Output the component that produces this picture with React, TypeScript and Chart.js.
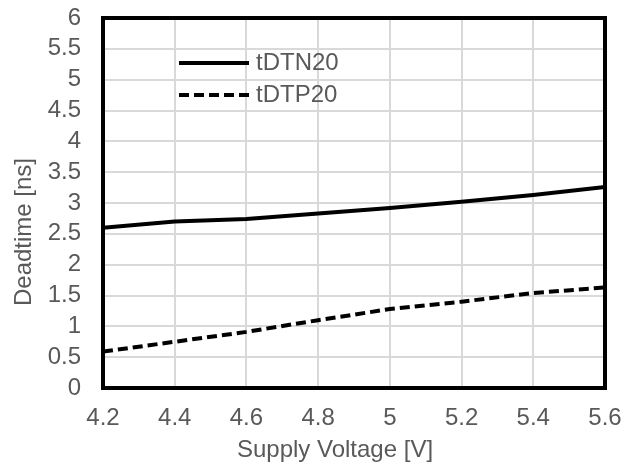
import { useEffect, useRef } from "react";
import { Chart, registerables } from "chart.js";

Chart.register(...registerables);

const voltages = [4.2, 4.4, 4.6, 4.8, 5.0, 5.2, 5.4, 5.6];
const tDTN20 = [2.6, 2.7, 2.74, 2.83, 2.92, 3.02, 3.13, 3.26];
const tDTP20 = [0.59, 0.75, 0.91, 1.1, 1.28, 1.4, 1.54, 1.63];
const seriesNames = ["tDTN20", "tDTP20"];
const xTickValues = [4.2, 4.4, 4.6, 4.8, 5.0, 5.2, 5.4, 5.6];
const yTickValues = [0, 0.5, 1, 1.5, 2, 2.5, 3, 3.5, 4, 4.5, 5, 5.5, 6];
const xTitle = "Supply Voltage [V]";
const yTitle = "Deadtime [ns]";

const FONT = '"Liberation Sans", Arial, Helvetica, sans-serif';
const TEXT = "#595959";
const GRID = "#d9d9d9";

const extrasPlugin = {
  id: "extras",
  afterDatasetsDraw(chart: any) {
    const { ctx, chartArea } = chart;
    const { left, top, right, bottom } = chartArea;
    ctx.save();
    ctx.strokeStyle = "#000";
    ctx.lineWidth = 4;
    ctx.setLineDash([]);
    ctx.strokeRect(left, top, right - left, bottom - top);
    ctx.restore();
  },
  afterDraw(chart: any) {
    const { ctx, chartArea } = chart;
    const { left, top, right, bottom } = chartArea;
    ctx.save();
    // legend inside the plot
    chart.data.datasets.forEach((ds: any, i: number) => {
      const y = top + 45 + i * 32;
      ctx.strokeStyle = ds.borderColor;
      ctx.lineWidth = ds.borderWidth;
      ctx.lineCap = "butt";
      ctx.setLineDash(ds.borderDash || []);
      ctx.beginPath();
      ctx.moveTo(left + 76, y);
      ctx.lineTo(left + 146, y);
      ctx.stroke();
      ctx.setLineDash([]);
      ctx.fillStyle = TEXT;
      ctx.font = `24px ${FONT}`;
      ctx.textAlign = "left";
      ctx.textBaseline = "middle";
      ctx.fillText(ds.label, left + 153, y);
    });
    ctx.fillStyle = TEXT;
    ctx.font = `24px ${FONT}`;
    ctx.textAlign = "center";
    ctx.textBaseline = "middle";
    // x-axis title
    ctx.fillText(xTitle, (left + right) / 2 - 19, bottom + 62);
    // y-axis title
    ctx.translate(24, (top + bottom) / 2 + 29);
    ctx.rotate(-Math.PI / 2);
    ctx.fillText(yTitle, 0, 0);
    ctx.restore();
  },
};

export default function App() {
  const ref = useRef<HTMLCanvasElement | null>(null);

  useEffect(() => {
    if (!ref.current) return;
    const chart = new Chart(ref.current, {
      type: "line",
      data: {
        datasets: [
          {
            label: seriesNames[0],
            data: voltages.map((v, i) => ({ x: v, y: tDTN20[i] })),
            borderColor: "#000000",
            borderWidth: 4,
            pointRadius: 0,
            tension: 0,
            fill: false,
          },
          {
            label: seriesNames[1],
            data: voltages.map((v, i) => ({ x: v, y: tDTP20[i] })),
            borderColor: "#000000",
            borderWidth: 4,
            borderDash: [10, 5],
            pointRadius: 0,
            tension: 0,
            fill: false,
          },
        ],
      },
      options: {
        animation: false,
        responsive: false,
        layout: { padding: { left: 0, top: 18, right: 35, bottom: 0 } },
        plugins: {
          legend: { display: false },
          tooltip: { enabled: false },
        },
        scales: {
          x: {
            type: "linear",
            min: 4.2,
            max: 5.6,
            afterBuildTicks: (s: any) => {
              s.ticks = xTickValues.map((v) => ({ value: v }));
            },
            afterFit: (s: any) => {
              s.height = 74;
              s.paddingLeft = 0;
              s.paddingRight = 0;
              s.paddingTop = 0;
              s.paddingBottom = 0;
            },
            ticks: {
              callback: (v: any) => String(v),
              font: { family: FONT, size: 24 },
              color: TEXT,
              padding: 16,
              maxRotation: 0,
              autoSkip: false,
            },
            grid: { color: GRID, lineWidth: 2, drawTicks: false },
            border: { display: false },
          },
          y: {
            min: 0,
            max: 6,
            afterBuildTicks: (s: any) => {
              s.ticks = yTickValues.map((v) => ({ value: v }));
            },
            afterFit: (s: any) => {
              s.width = 103;
              s.paddingLeft = 0;
              s.paddingRight = 0;
              s.paddingTop = 0;
              s.paddingBottom = 0;
            },
            ticks: {
              callback: (v: any) => String(v),
              font: { family: FONT, size: 24 },
              color: TEXT,
              padding: 22,
              autoSkip: false,
            },
            grid: { color: GRID, lineWidth: 2, drawTicks: false },
            border: { display: false },
          },
        },
      },
      plugins: [extrasPlugin],
    });
    return () => chart.destroy();
  }, []);

  return (
    <div style={{ position: "fixed", left: 0, top: 0, width: 640, height: 462, background: "#fff" }}>
      <canvas ref={ref} width={640} height={462} style={{ display: "block" }} />
    </div>
  );
}
